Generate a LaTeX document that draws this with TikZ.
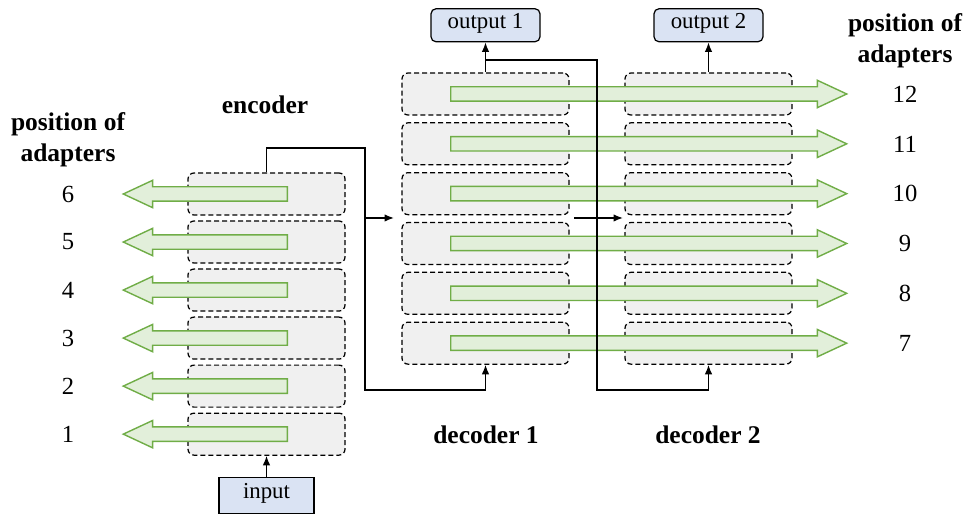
\documentclass[tikz,border=0pt]{standalone}
\usepackage{fontspec}
\setmainfont{Liberation Serif}
\usepackage{xcolor}
\usepackage{tikz}
\usetikzlibrary{shapes,arrows,positioning,calc,arrows.meta}

\definecolor{adfill}{HTML}{E2EFDA}
\definecolor{adline}{HTML}{70AD47}
\definecolor{iofill}{HTML}{DAE3F3}
\definecolor{layerfill}{HTML}{F0F0F0}

\begin{document}
\begin{tikzpicture}[x=0.2mm, y=0.2mm, node distance=0.96mm, auto,
    font=\fontsize{14}{17}\selectfont,
    layer/.style={rectangle, draw, dash pattern=on 1mm off 0.6mm, fill=layerfill, rounded corners=1.2mm, minimum height=8.4mm, line width=0.7pt},
    enclayer/.style={layer, minimum width=31.4mm},
    declayer/.style={layer, minimum width=33.4mm},
    io/.style={rectangle, draw, fill=iofill, minimum height=6.6mm, text height=2.4mm, font=\fontsize{13}{15}\selectfont, line width=0.7pt},
    adapter/.style={single arrow, draw=adline, fill=adfill, line width=0.8pt, inner xsep=0pt, inner ysep=1.3mm, single arrow head extend=1.3mm, single arrow tip angle=50, anchor=tail},
    heading/.style={font=\fontsize{14.5}{17.5}\selectfont\bfseries, align=center},
    line/.style={draw, -{Latex[length=1.9mm, width=1.5mm]}, line width=0.8pt}]

    \useasboundingbox (0,0) rectangle (967,515);

    % Encoder layers
    \node [enclayer] (enc6) at (266.5,321) {};
    \node [enclayer, below=of enc6] (enc5) {};
    \node [enclayer, below=of enc5] (enc4) {};
    \node [enclayer, below=of enc4] (enc3) {};
    \node [enclayer, below=of enc3] (enc2) {};
    \node [enclayer, below=of enc2] (enc1) {};

    % Decoder layers
    \node [declayer] (decone12) at (485.5,421) {};
    \node [declayer, below=1.32mm of decone12] (decone11) {};
    \node [declayer, below=1.32mm of decone11] (decone10) {};
    \node [declayer, below=1.32mm of decone10] (decone9) {};
    \node [declayer, below=1.32mm of decone9] (decone8) {};
    \node [declayer, below=1.32mm of decone8] (decone7) {};
    \node [declayer] (dectwo12) at (708.5,421) {};
    \node [declayer, below=1.32mm of dectwo12] (dectwo11) {};
    \node [declayer, below=1.32mm of dectwo11] (dectwo10) {};
    \node [declayer, below=1.32mm of dectwo10] (dectwo9) {};
    \node [declayer, below=1.32mm of dectwo9] (dectwo8) {};
    \node [declayer, below=1.32mm of dectwo8] (dectwo7) {};

    % Input and outputs
    \node [io, minimum width=19mm, minimum height=7.2mm, below=4.2mm of enc1] (input) {input};
    \node [io, rounded corners=1mm, minimum width=21.8mm, above=6mm of decone12] (out1) {output 1};
    \node [io, rounded corners=1mm, minimum width=21.8mm, above=6mm of dectwo12] (out2) {output 2};

    % Adapters
    \node [adapter, shape border rotate=180, minimum height=32.8mm] (ad6) at ([xshift=4.3mm]enc6.center) {};
    \node [adapter, shape border rotate=180, minimum height=32.8mm] (ad5) at ([xshift=4.3mm]enc5.center) {};
    \node [adapter, shape border rotate=180, minimum height=32.8mm] (ad4) at ([xshift=4.3mm]enc4.center) {};
    \node [adapter, shape border rotate=180, minimum height=32.8mm] (ad3) at ([xshift=4.3mm]enc3.center) {};
    \node [adapter, shape border rotate=180, minimum height=32.8mm] (ad2) at ([xshift=4.3mm]enc2.center) {};
    \node [adapter, shape border rotate=180, minimum height=32.8mm] (ad1) at ([xshift=4.3mm]enc1.center) {};
    \node [adapter, minimum height=79.2mm] (ad12) at ([xshift=-7.1mm]decone12.center) {};
    \node [adapter, minimum height=79.2mm] (ad11) at ([xshift=-7.1mm]decone11.center) {};
    \node [adapter, minimum height=79.2mm] (ad10) at ([xshift=-7.1mm]decone10.center) {};
    \node [adapter, minimum height=79.2mm] (ad9) at ([xshift=-7.1mm]decone9.center) {};
    \node [adapter, minimum height=79.2mm] (ad8) at ([xshift=-7.1mm]decone8.center) {};
    \node [adapter, minimum height=79.2mm] (ad7) at ([xshift=-7.1mm]decone7.center) {};

    % Positions
    \node (pos6) at (68,321) {6};
    \node (pos5) at (68,273) {5};
    \node (pos4) at (68,225) {4};
    \node (pos3) at (68,177) {3};
    \node (pos2) at (68,129) {2};
    \node (pos1) at (68,81) {1};
    \node (pos12) at (905,421) {12};
    \node (pos11) at (905,371) {11};
    \node (pos10) at (905,322) {10};
    \node (pos9) at (905,272) {9};
    \node (pos8) at (905,222) {8};
    \node (pos7) at (905,172) {7};

    % Headings
    \node [heading] (posleft) at (68,375) {position of\\adapters};
    \node [heading] (posright) at (905,474) {position of\\adapters};
    \node [heading] (enctitle) at (265,410) {encoder};
    \node [heading] (deconetitle) at (486,80) {decoder 1};
    \node [heading] (dectwotitle) at (708,80) {decoder 2};

    % Paths
    \coordinate (split1) at (365,367);
    \coordinate (merge1) at (365,125);
    \coordinate (in1) at (394,297);
    \coordinate (split2) at (597,455);
    \coordinate (merge2) at (597,125);
    \coordinate (from2) at (574,297);
    \coordinate (in2) at (623,297);

    \path [line] (input) -- (enc1);
    \path [line] (enc6.north) |- (split1) -- (merge1) -| (decone7.south);
    \path [line] (split1 |- in1) -- (in1);
    \path [line] (decone12) -- (out1);
    \path [line] (out1.south |- split2) -- (split2) -- (merge2) -| (dectwo7.south);
    \path [line] (from2) -- (in2);
    \path [line] (dectwo12) -- (out2);

\end{tikzpicture}
\end{document}
